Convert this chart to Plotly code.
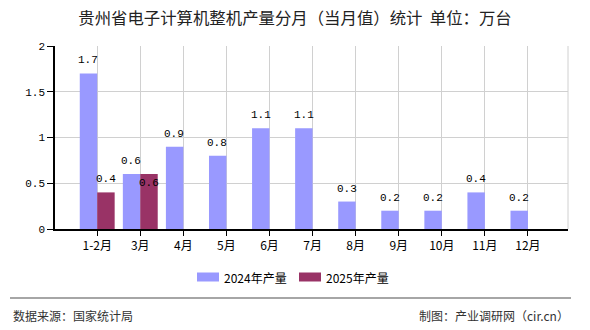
import plotly.graph_objects as go

categories = ["1-2月", "3月", "4月", "5月", "6月", "7月", "8月", "9月", "10月", "11月", "12月"]
values_2024 = [1.7, 0.6, 0.9, 0.8, 1.1, 1.1, 0.3, 0.2, 0.2, 0.4, 0.2]
values_2025 = [0.4, 0.6]
series_names = ["2024年产量", "2025年产量"]
colors = ["#9999FF", "#993366"]
y_ticks = [0, 0.5, 1, 1.5, 2]

title_text = "贵州省电子计算机整机产量分月（当月值）统计  单位：万台"
source_text = "数据来源：国家统计局"
credit_text = "制图：产业调研网（cir.cn）"

CJK = "Noto Sans CJK SC"
NUM = "Liberation Mono"

xpos = list(range(len(categories)))

fig = go.Figure()
fig.add_trace(go.Bar(x=xpos, y=values_2024, name=series_names[0],
                     marker=dict(color=colors[0], line=dict(width=0)), showlegend=False))
fig.add_trace(go.Bar(x=xpos[:len(values_2025)], y=values_2025, name=series_names[1],
                     marker=dict(color=colors[1], line=dict(width=0)), showlegend=False))

annotations = []
for i, v in enumerate(values_2024):
    annotations.append(dict(x=xpos[i], y=v, xref="x", yref="y", text=f"{v:.1f}", showarrow=False,
                            xshift=-9, yshift=5, yanchor="bottom",
                            font=dict(family=NUM, size=11, color="#000")))
for i, v in enumerate(values_2025):
    inside = (i == 1)
    annotations.append(dict(x=xpos[i], y=v, xref="x", yref="y", text=f"{v:.1f}", showarrow=False,
                            xshift=9, yshift=(-1 if inside else 5), yanchor=("top" if inside else "bottom"),
                            font=dict(family=NUM, size=11, color="#000")))

# manual legend
def px_x(p):
    return (p - 55) / 513.0

def px_y(p):
    return (229 - p) / 183.0

shapes = []
leg_y = 277
for k, (sx, tx) in enumerate([(197, 223), (299, 325)]):
    shapes.append(dict(type="rect", xref="paper", yref="paper",
                       x0=px_x(sx), x1=px_x(sx + 22), y0=px_y(leg_y + 4.5), y1=px_y(leg_y - 4.5),
                       fillcolor=colors[k], line=dict(width=0)))
    annotations.append(dict(x=px_x(tx - 1), y=px_y(leg_y), xref="paper", yref="paper", text=series_names[k],
                            showarrow=False, xanchor="left", yanchor="middle",
                            font=dict(family=CJK, size=12, color="#000")))

# footer line and texts
shapes.append(dict(type="line", xref="paper", yref="paper", x0=px_x(10), x1=px_x(571),
                   y0=px_y(298), y1=px_y(298), line=dict(color="#888888", width=1.5)))
# right frame gridline
shapes.append(dict(type="line", xref="paper", yref="paper", x0=1, x1=1, y0=0, y1=1,
                   line=dict(color="#d0d0d0", width=1), layer="below"))
annotations.append(dict(x=px_x(11), y=px_y(315), xref="paper", yref="paper", text=source_text,
                        showarrow=False, xanchor="left", yanchor="middle",
                        font=dict(family=CJK, size=12, color="#333")))
annotations.append(dict(x=px_x(571), y=px_y(315), xref="paper", yref="paper", text=credit_text,
                        showarrow=False, xanchor="right", yanchor="middle",
                        font=dict(family=CJK, size=12, color="#333")))

tickvals = list(range(-1, len(categories) + 1))
ticktext = [""] + categories + [""]

fig.update_layout(
    width=590, height=330,
    margin=dict(l=55, r=22, t=46, b=101),
    paper_bgcolor="white", plot_bgcolor="white",
    barmode="group", bargap=0.19, bargroupgap=0,
    title=dict(text=title_text, x=0.5, xanchor="center", y=1 - 18.5 / 330, yanchor="middle",
               font=dict(family=CJK, size=16.4, color="#222")),
    xaxis=dict(range=[-0.98, len(categories) - 0.07], tickmode="array", tickvals=tickvals, ticktext=ticktext,
               showgrid=True, gridcolor="#d0d0d0", gridwidth=1,
               showline=True, linecolor="#000", linewidth=1.5,
               ticks="outside", ticklen=5, tickcolor="#000",
               tickfont=dict(family=CJK, size=12, color="#000"), zeroline=False),
    yaxis=dict(range=[0, 2], tickvals=y_ticks, ticktext=[("%g" % t) for t in y_ticks],
               showgrid=True, gridcolor="#d0d0d0", gridwidth=1,
               showline=True, linecolor="#000", linewidth=1.5,
               ticks="outside", ticklen=6, tickcolor="#000",
               tickfont=dict(family=NUM, size=11, color="#000"), zeroline=False),
    annotations=annotations, shapes=shapes, showlegend=False,
)

fig.write_html("out.html")
